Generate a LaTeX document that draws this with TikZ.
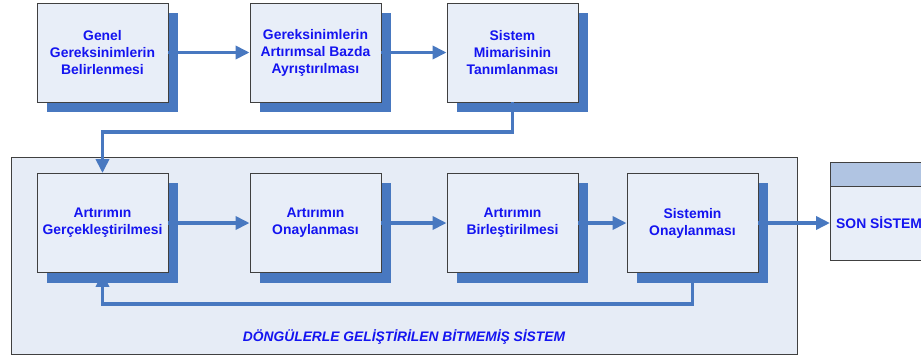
\documentclass[tikz,border=0pt]{standalone}
\usepackage{fontspec}
\setmainfont{Liberation Sans}
\usetikzlibrary{arrows.meta}
\definecolor{txtblue}{RGB}{20,20,240}
\definecolor{shadowblue}{RGB}{72,120,192}
\definecolor{boxfill}{RGB}{232,238,248}
\definecolor{framefill}{RGB}{230,236,246}
\definecolor{headfill}{RGB}{176,196,226}
\definecolor{edge}{RGB}{64,64,64}
\tikzset{
  x=1pt, y=-1pt,
  procbox/.style={draw=edge, line width=0.9pt, fill=boxfill, minimum width=131pt,
    minimum height=99pt, inner sep=0pt, align=center, text=txtblue,
    font=\fontsize{13.9}{17}\selectfont\bfseries},
  boxshadow/.style={fill=shadowblue, draw=none},
  flow/.style={draw=shadowblue, line width=3.6pt,
    -{Triangle[length=14pt,width=13pt]}}
}
\newcommand{\shadowof}[1]{\fill[boxshadow] ([xshift=10pt,yshift=-10pt]#1.south west) rectangle ([xshift=10pt,yshift=-10pt]#1.north east);}
\begin{document}
\begin{tikzpicture}
\useasboundingbox (0,0) rectangle (921,360);

% frame of the iterative stage
\node[draw=edge, line width=0.9pt, fill=framefill, minimum width=786pt, minimum height=197pt,
  inner sep=0pt, anchor=north west] (frame) at (11,157) {};
\node[text=txtblue, font=\fontsize{13.8}{17}\selectfont\bfseries\itshape] (framelabel) at (404,337)
  {DÖNGÜLERLE GELİŞTİRİLEN BİTMEMİŞ SİSTEM};

% final system box
\node[draw=edge, line width=0.9pt, fill=boxfill, minimum width=100pt, minimum height=98pt,
  inner sep=0pt, anchor=north west] (final) at (830,162) {};
\fill[headfill] (final.north west) rectangle ([yshift=-24pt]final.north east);
\draw[edge, line width=0.9pt] ([yshift=-24pt]final.north west) -- ([yshift=-24pt]final.north east);
\draw[edge, line width=0.9pt] (final.south west) rectangle (final.north east);
\node[text=txtblue, font=\fontsize{13.9}{17}\selectfont\bfseries, anchor=west, inner sep=0pt]
  (finaltext) at (836,223) {SON SİSTEM};

% process boxes: positions of the upper and lower rows
\path (102.5,52.5) coordinate (p1) (315.5,52.5) coordinate (p2) (512.5,52.5) coordinate (p3)
      (102.5,223) coordinate (p4) (315.5,223) coordinate (p5) (512.5,223) coordinate (p6)
      (692.5,223) coordinate (p7);
\path (p1) node[procbox, draw=none, fill=none] (b1) {}
      (p2) node[procbox, draw=none, fill=none] (b2) {}
      (p3) node[procbox, draw=none, fill=none] (b3) {}
      (p4) node[procbox, draw=none, fill=none] (b4) {}
      (p5) node[procbox, draw=none, fill=none] (b5) {}
      (p6) node[procbox, draw=none, fill=none] (b6) {}
      (p7) node[procbox, draw=none, fill=none] (b7) {};
\shadowof{b1}\shadowof{b2}\shadowof{b3}\shadowof{b4}\shadowof{b5}\shadowof{b6}\shadowof{b7}

\node[procbox] (n1) at (p1) {Genel\\Gereksinimlerin\\Belirlenmesi};
\node[procbox] (n2) at (p2) {Gereksinimlerin\\Artırımsal Bazda\\Ayrıştırılması};
\node[procbox] (n3) at (p3) {Sistem\\Mimarisinin\\Tanımlanması};
\node[procbox] (n4) at (p4) {Artırımın\\Gerçekleştirilmesi};
\node[procbox] (n5) at (p5) {Artırımın\\Onaylanması};
\node[procbox] (n6) at (p6) {Artırımın\\Birleştirilmesi};
\node[procbox] (n7) at (p7) {Sistemin\\Onaylanması};

% connectors
\draw[flow] (n1.east) -- (n2.west);
\draw[flow] (n2.east) -- (n3.west);
\draw[flow] (n3.south) |- (101,132) -| (n4.north);
\draw[flow] (n4.east) -- (n5.west);
\draw[flow] (n5.east) -- (n6.west);
\draw[flow] (n6.east) -- (n7.west);
\draw[flow] (n7.east) -- (final.west |- n7.east);
\draw[flow] (n7.south) |- (101,304) -| (n4.south);
\end{tikzpicture}
\end{document}
